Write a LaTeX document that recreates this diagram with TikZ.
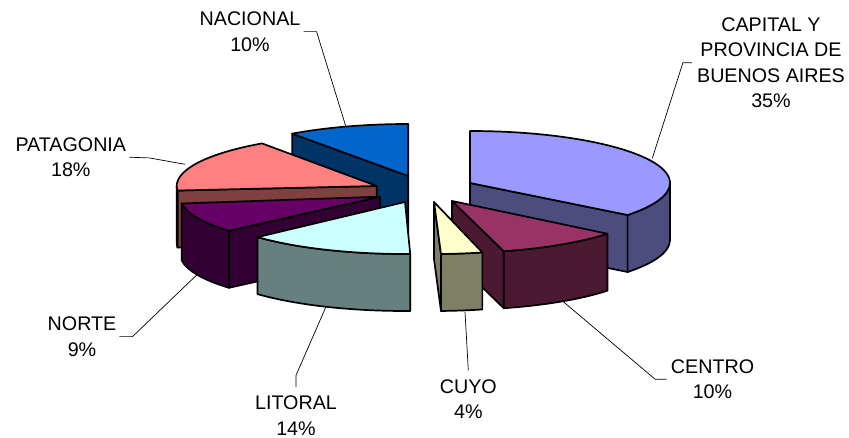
\documentclass[tikz,border=0pt]{standalone}
\usepackage{fontspec}
\setmainfont{Liberation Sans}
\definecolor{capitaltop}{HTML}{9999FF}
\definecolor{capitalside}{HTML}{4C4C7F}
\definecolor{centrotop}{HTML}{993366}
\definecolor{centroside}{HTML}{4C1933}
\definecolor{cuyotop}{HTML}{FFFFCC}
\definecolor{cuyoside}{HTML}{7F7F66}
\definecolor{litoraltop}{HTML}{CCFFFF}
\definecolor{litoralside}{HTML}{667F7F}
\definecolor{nortetop}{HTML}{660066}
\definecolor{norteside}{HTML}{330033}
\definecolor{patagoniatop}{HTML}{FF8080}
\definecolor{patagoniaside}{HTML}{7F4040}
\definecolor{nacionaltop}{HTML}{0066CC}
\definecolor{nacionalside}{HTML}{003366}

\begin{document}
\begin{tikzpicture}[x=1pt,y=-1pt,
    face/.style={draw=black,line width=1.7pt,line join=round},
    rim/.style={x radius=200,y radius=52},
    leader/.style={draw=black,line width=0.7pt},
    lbl/.style={anchor=north,inner sep=0pt,align=center,font=\fontsize{19.7}{25.5}\selectfont}]
      \useasboundingbox (0,0) rectangle (849,438);

      \begin{scope}[shift={(408.3,176)}]
        \draw[face,fill=nacionalside] (0,0) -- (234.5:200 and 52) -- ++(0,57) -- (0,57) -- cycle;
        \draw[face,fill=nacionaltop] (0,0) -- (234.5:200 and 52) arc[rim,start angle=234.5,end angle=270] -- cycle;
      \end{scope}

      \begin{scope}[shift={(376.7,186)}]
        \draw[face,fill=patagoniaside] (0,0) -- (175:200 and 52) -- ++(0,57) -- (0,57) -- cycle;
        \draw[face,fill=patagoniaside] (175:200 and 52) arc[rim,start angle=175,end angle=180] -- ++(0,57) arc[rim,start angle=180,end angle=175] -- cycle;
        \draw[face,fill=patagoniatop] (0,0) -- (175:200 and 52) arc[rim,start angle=175,end angle=235] -- cycle;
      \end{scope}

      \begin{scope}[shift={(380,196.7)}]
        \draw[face,fill=norteside] (0,0) -- (139:200 and 52) -- ++(0,57) -- (0,57) -- cycle;
        \draw[face,fill=norteside] (139:200 and 52) arc[rim,start angle=139,end angle=172.5] -- ++(0,57) arc[rim,start angle=172.5,end angle=139] -- cycle;
        \draw[face,fill=nortetop] (0,0) -- (139:200 and 52) arc[rim,start angle=139,end angle=172.5] -- cycle;
      \end{scope}

      \begin{scope}[shift={(405,202)}]
        \draw[face,fill=litoralside] (88.5:200 and 52) arc[rim,start angle=88.5,end angle=137.5] -- ++(0,57) arc[rim,start angle=137.5,end angle=88.5] -- cycle;
        \draw[face,fill=litoraltop] (0,0) -- (88.5:200 and 52) arc[rim,start angle=88.5,end angle=137.5] -- cycle;
      \end{scope}

      \begin{scope}[shift={(470,183)}]
        \draw[face,fill=capitalside] (0,0) -- (38:200 and 52) -- ++(0,57) -- (0,57) -- cycle;
        \draw[face,fill=capitalside] (0:200 and 52) arc[rim,start angle=0,end angle=38] -- ++(0,57) arc[rim,start angle=38,end angle=0] -- cycle;
        \draw[face,fill=capitaltop] (0,0) -- (-90:200 and 52) arc[rim,start angle=-90,end angle=38] -- cycle;
      \end{scope}

      \begin{scope}[shift={(452,201)}]
        \draw[face,fill=centroside] (0,0) -- (75:200 and 52) -- ++(0,57) -- (0,57) -- cycle;
        \draw[face,fill=centroside] (39:200 and 52) arc[rim,start angle=39,end angle=75] -- ++(0,57) arc[rim,start angle=75,end angle=39] -- cycle;
        \draw[face,fill=centrotop] (0,0) -- (39:200 and 52) arc[rim,start angle=39,end angle=75] -- cycle;
      \end{scope}

      \begin{scope}[shift={(434,202)}]
        \draw[face,fill=cuyoside] (0,0) -- (88:200 and 52) -- ++(0,57) -- (0,57) -- cycle;
        \draw[face,fill=cuyoside] (76:200 and 52) arc[rim,start angle=76,end angle=88] -- ++(0,57) arc[rim,start angle=88,end angle=76] -- cycle;
        \draw[face,fill=cuyotop] (0,0) -- (76:200 and 52) arc[rim,start angle=76,end angle=88] -- cycle;
      \end{scope}

      \node[lbl] (nacional) at (250,11.7) {NACIONAL\\10\%};
      \node[lbl] (capital) at (771,17.3) {CAPITAL Y\\PROVINCIA DE\\BUENOS AIRES\\35\%};
      \node[lbl] (patagonia) at (70.8,137.3) {PATAGONIA\\18\%};
      \node[lbl] (norte) at (82,316.7) {NORTE\\9\%};
      \node[lbl] (litoral) at (296,396) {LITORAL\\14\%};
      \node[lbl] (cuyo) at (468.3,379.3) {CUYO\\4\%};
      \node[lbl] (centro) at (712.5,359.3) {CENTRO\\10\%};

      \coordinate (nacional-in) at (345.7,126);
      \coordinate (capital-in) at (652.3,158.3);
      \coordinate (patagonia-in) at (185,164.3);
      \coordinate (norte-in) at (196.7,275);
      \coordinate (litoral-in) at (326,306.7);
      \coordinate (cuyo-in) at (465,311.7);
      \coordinate (centro-in) at (563.3,301.7);

      \draw[leader] ([xshift=3pt]nacional.east) -- ++(13,0) -- (nacional-in);
      \draw[leader] ([xshift=-5pt]capital.west) -- ++(-9,0) -- (capital-in);
      \draw[leader] ([xshift=3pt]patagonia.east) -- ++(20,0.7) -- (patagonia-in);
      \draw[leader] ([xshift=3pt]norte.east) -- ++(13,0) -- (norte-in);
      \draw[leader] ([yshift=9pt]litoral.north) -- ++(0,-11.7) -- (litoral-in);
      \draw[leader] ([yshift=9pt]cuyo.north) -- (cuyo-in);
      \draw[leader] ([xshift=-4pt]centro.west) -- ++(-11.6,0) -- (centro-in);
    \end{tikzpicture}
\end{document}
